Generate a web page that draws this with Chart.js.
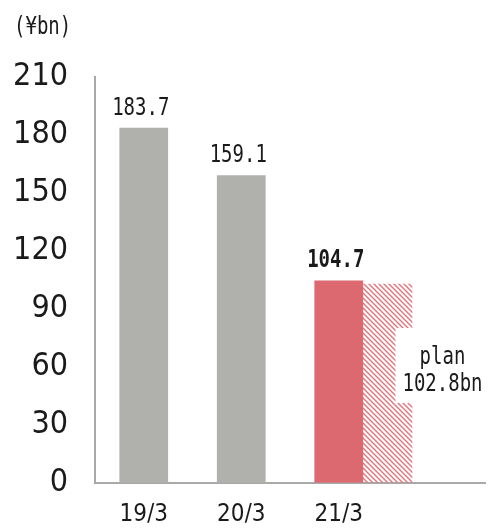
<!DOCTYPE html>
<html>
<head>
<meta charset="utf-8">
<script src="https://cdn.jsdelivr.net/npm/chart.js@4.4.0/dist/chart.umd.min.js"></script>
<style>
  html, body { margin: 0; padding: 0; background: #fff; }
</style>
</head>
<body>
<canvas id="myChart" width="488" height="529"></canvas>
<script>
  var periods = ['19/3', '20/3', '21/3', ''];
  var results = [183.7, 159.1, 104.7, null];
  var planValue = 102.8;
  var planSlot = 2.5;           // halfway between 21/3 and the empty slot
  var yTicks = [0, 30, 60, 90, 120, 150, 180, 210];
  var unitLabel = '(¥bn)';

  var gray = '#b0b1ac';
  var red = '#dc6870';

  // diagonal red hatching for the plan bar
  function hatch() {
    var c = document.createElement('canvas');
    c.width = 5;
    c.height = 5;
    var g = c.getContext('2d');
    g.strokeStyle = '#e2737b';
    g.lineWidth = 1.4;
    g.beginPath();
    g.moveTo(-1, -1); g.lineTo(6, 6);
    g.moveTo(-1, 4); g.lineTo(1, 6);
    g.moveTo(4, -1); g.lineTo(6, 1);
    g.stroke();
    return g.createPattern(c, 'repeat');
  }

  // narrow, tall monospace text
  function tallText(ctx, text, x, y, bold) {
    ctx.save();
    ctx.translate(x, y);
    ctx.scale(1, 1.3);
    ctx.font = (bold ? 'bold ' : '') + '19px "DejaVu Sans Mono"';
    ctx.fillText(text, 0, 0);
    ctx.restore();
  }

  var labelsPlugin = {
    id: 'labels',
    afterDatasetsDraw: function (chart) {
      var ctx = chart.ctx;
      ctx.save();
      ctx.fillStyle = '#1a1a1a';
      ctx.textAlign = 'center';
      ctx.textBaseline = 'alphabetic';

      var bars = chart.getDatasetMeta(0).data;
      results.forEach(function (v, i) {
        if (v === null) return;
        tallText(ctx, v.toFixed(1), bars[i].x - 3, bars[i].y - 13, i === 2);
      });

      // plan note over the hatched bar
      var plan = chart.getDatasetMeta(1).data[0];
      ctx.fillStyle = '#fff';
      ctx.fillRect(plan.x + 8, 328, chart.width - plan.x - 8, 75);
      ctx.fillStyle = '#1a1a1a';
      tallText(ctx, 'plan', plan.x + 55, 364, false);
      tallText(ctx, planValue.toFixed(1) + 'bn', plan.x + 55, 391, false);

      ctx.textAlign = 'left';
      tallText(ctx, unitLabel, 14, 34, false);
      ctx.restore();
    }
  };

  new Chart('myChart', {
    type: 'bar',
    data: {
      labels: periods,
      datasets: [{
        data: results,
        backgroundColor: [gray, gray, red, red],
        barPercentage: 0.5,
        categoryPercentage: 1,
        grouped: false
      }, {
        data: [{ x: planSlot, y: planValue }],
        xAxisID: 'x2',
        backgroundColor: hatch(),
        barThickness: 49,
        grouped: false
      }]
    },
    options: {
      responsive: false,
      animation: false,
      layout: { padding: { top: 77, right: 3 } },
      plugins: {
        legend: { display: false },
        tooltip: { enabled: false }
      },
      scales: {
        x: {
          grid: { display: false, drawTicks: false },
          border: { color: '#a9a9a9', width: 2 },
          ticks: {
            color: '#1a1a1a',
            padding: 18,
            font: { family: '"DejaVu Sans Condensed"', size: 24 }
          },
          afterFit: function (s) { s.height = 40; }
        },
        x2: {
          type: 'linear',
          display: false,
          offset: false,
          min: -0.5,
          max: periods.length - 0.5
        },
        y: {
          min: yTicks[0],
          max: yTicks[yTicks.length - 1],
          grid: { display: false, drawTicks: false },
          border: { color: '#a9a9a9', width: 2 },
          ticks: {
            stepSize: yTicks[1] - yTicks[0],
            color: '#1a1a1a',
            padding: 27,
            font: { family: '"DejaVu Sans Condensed"', size: 32 }
          },
          afterFit: function (s) { s.width = 95; }
        }
      }
    },
    plugins: [labelsPlugin]
  });
</script>
</body>
</html>
